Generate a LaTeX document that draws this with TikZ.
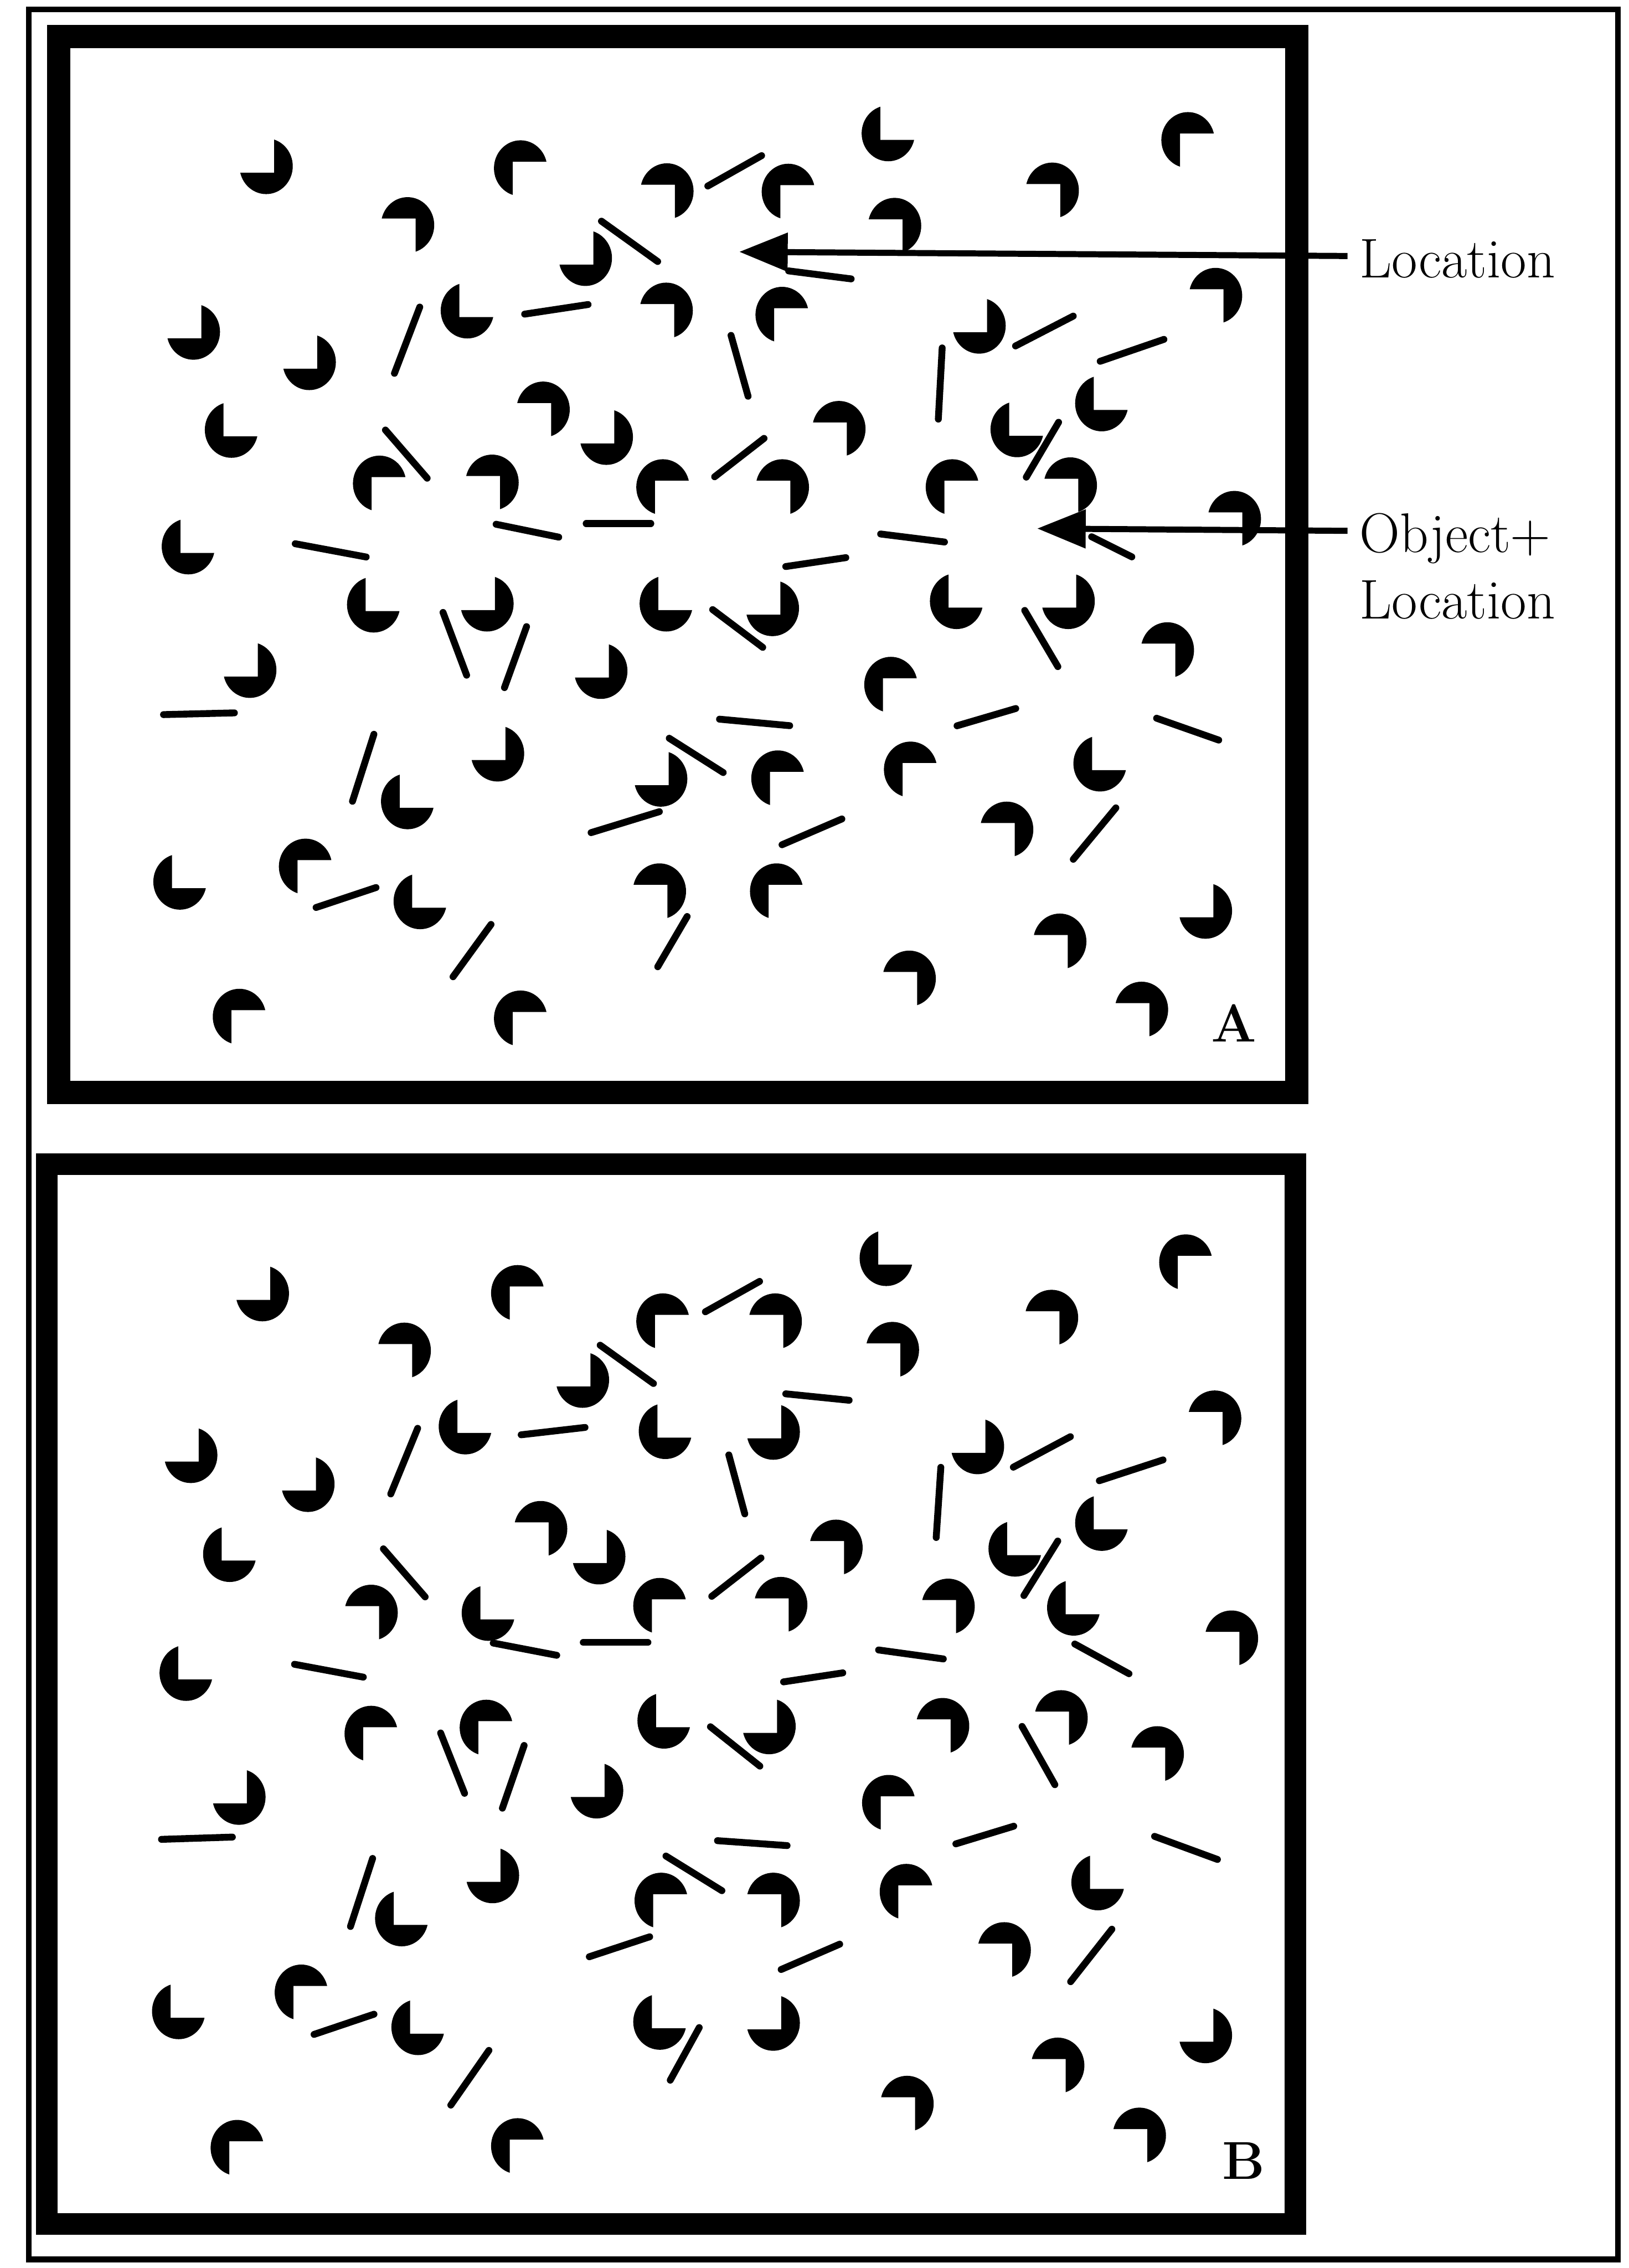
\documentclass[tikz,border=0pt]{standalone}
\usetikzlibrary{arrows.meta,calc}
\newcommand\pac[4]{%
  \begin{scope}
    \clip ({#1},{#2}) -- ({#1+(#3)*30},{#2}) -- ({#1+(#3)*30},{#2-(#4)*30}) -- ({#1-(#3)*30},{#2-(#4)*30}) -- ({#1-(#3)*30},{#2+(#4)*30}) -- ({#1},{#2+(#4)*30}) -- cycle;
    \fill ({#1+(#3)*5.5},{#2+(#4)*4.5}) ellipse [x radius=3.68mm, y radius=3.86mm];
  \end{scope}}
\newcommand\pacJ[2]{\pac{#1}{#2}{-1}{-1}}
\newcommand\pacR[2]{\pac{#1}{#2}{1}{1}}
\newcommand\pacS[2]{\pac{#1}{#2}{-1}{1}}
\newcommand\pacL[2]{\pac{#1}{#2}{1}{-1}}
\tikzset{
  stim/.style={line width=0.95mm, line cap=round, shorten <=0.45mm, shorten >=0.45mm},
  arr/.style={line width=0.84mm, -{Triangle[length=6.7mm,width=5.2mm]}},
  frameA/.style={line width=3.2mm},
  frameB/.style={line width=3.0mm},
  outer/.style={line width=0.8mm},
  lab/.style={inner sep=0pt, font=\fontsize{22}{26}\selectfont},
  panlab/.style={inner sep=0pt, font=\fontsize{21}{25}\selectfont\bfseries}
}
\begin{document}
\begin{tikzpicture}[x=0.2mm, y=-0.2mm]
\useasboundingbox (0,0) rectangle (1126,1568);
\fill[white] (0,0) rectangle (1126,1568);
% frames
\draw[outer] (20,6.5) rectangle (1118.5,1562);
\draw[frameA] (40.6,25.3) rectangle (896.6,755.2);
\draw[frameB] (32.5,805) rectangle (895.5,1537.5);

% ================= Panel A =================
\pacJ{189.5}{119.4}
\pacR{354.4}{111.8}
\pacS{466.6}{127.7}
\pacS{287.3}{151.1}
\pacJ{410.2}{182.9}
\pacL{317.6}{219.2}
\pacS{466.1}{210.2}
\pacJ{139.2}{233.9}
\pacJ{219.3}{254.9}
\pacL{154.5}{301.7}
\pacS{381.0}{278.6}
\pacJ{424.7}{306.6}
\pacR{256.9}{329.8}
\pacS{345.7}{329.1}
\pacR{452.8}{332.3}
\pacL{124.7}{382.3}
\pacR{539.5}{128.0}
\pacL{608.6}{96.7}
\pacR{815.8}{92.3}
\pacS{733.0}{127.2}
\pacS{624.0}{151.6}
\pacR{535.2}{213.1}
\pacS{845.9}{200.0}
\pacJ{682.4}{229.7}
\pacL{756.2}{283.4}
\pacL{697.7}{301.3}
\pacS{585.5}{292.0}
\pacS{546.4}{332.3}
\pacR{652.9}{332.3}
\pacS{745.5}{331.0}
\pacS{858.9}{354.2}
\pacL{252.8}{422.5}
\pacJ{342.2}{421.8}
\pacL{455.1}{421.8}
\pacJ{178.2}{467.7}
\pacJ{420.9}{468.4}
\pacL{276.3}{558.5}
\pacJ{349.5}{525.5}
\pacJ{462.3}{542.9}
\pacL{118.9}{614.1}
\pacR{205.7}{594.6}
\pacL{285.0}{627.6}
\pacS{461.4}{611.7}
\pacR{160.0}{698.4}
\pacR{354.4}{699.6}
\pacJ{539.5}{425.0}
\pacL{655.8}{420.1}
\pacJ{744.0}{420.1}
\pacS{812.6}{445.0}
\pacR{610.4}{468.9}
\pacR{532.3}{533.6}
\pacR{624.0}{527.5}
\pacL{755.0}{532.4}
\pacS{701.5}{569.0}
\pacR{531.4}{611.7}
\pacJ{838.9}{634.2}
\pacS{738.2}{646.4}
\pacS{634.1}{672.0}
\pacS{794.7}{693.5}

\draw[stim] (414.0,151.6) -- (456.5,182.1);
\draw[stim] (360.5,217.5) -- (408.8,210.2);
\draw[stim] (291.0,210.2) -- (271.9,260.2);
\draw[stim] (265.0,295.6) -- (296.8,332.3);
\draw[stim] (201.9,375.5) -- (255.4,385.5);
\draw[stim] (340.8,362.0) -- (388.5,371.8);
\draw[stim] (403.0,362.0) -- (452.2,362.0);
\draw[stim] (487.4,129.7) -- (528.5,106.5);
\draw[stim] (543.0,187.0) -- (590.7,193.1);
\draw[stim] (700.1,240.2) -- (744.0,217.5);
\draw[stim] (758.5,250.5) -- (806.8,233.9);
\draw[stim] (504.8,229.7) -- (517.8,276.1);
\draw[stim] (651.5,238.3) -- (648.6,292.0);
\draw[stim] (733.0,290.0) -- (708.4,331.8);
\draw[stim] (492.3,331.0) -- (530.0,301.7);
\draw[stim] (752.7,370.1) -- (784.5,386.0);
\draw[stim] (606.6,368.9) -- (655.2,375.0);
\draw[stim] (541.0,392.0) -- (587.0,385.2);
\draw[stim] (305.5,421.3) -- (323.4,468.9);
\draw[stim] (364.8,431.1) -- (348.0,477.5);
\draw[stim] (110.8,494.1) -- (164.3,492.8);
\draw[stim] (259.2,505.5) -- (243.0,556.1);
\draw[stim] (460.8,509.2) -- (501.9,535.3);
\draw[stim] (406.5,576.3) -- (458.0,560.5);
\draw[stim] (216.4,628.1) -- (262.1,612.9);
\draw[stim] (340.8,637.3) -- (311.9,677.1);
\draw[stim] (476.2,631.7) -- (453.6,670.3);
\draw[stim] (490.9,420.1) -- (529.1,448.9);
\draw[stim] (707.3,420.1) -- (732.5,462.8);
\draw[stim] (495.2,497.0) -- (548.2,501.9);
\draw[stim] (659.5,502.4) -- (704.4,489.2);
\draw[stim] (797.5,495.8) -- (844.7,512.4);
\draw[stim] (538.6,584.9) -- (584.1,565.3);
\draw[stim] (772.9,556.8) -- (740.6,595.8);

\node[panlab] (labA) at (853,707.3) {A};

% labels and arrows
\node[lab, anchor=base west] (loc) at (939.6,192) {Location};
\node[lab, anchor=base west] (obj) at (939.6,382) {Object+};
\node[lab, anchor=base west] (objloc) at (939.6,427.8) {Location};
\coordinate (tipA) at (511.1,174.1);
\coordinate (tipB) at (717.1,365.4);
\draw[arr] ($(loc.base west)+(-8,-15)$) -- (tipA);
\draw[arr] ($(obj.base west)+(-8,-15)$) -- (tipB);

% ================= Panel B =================
\pacJ{186.9}{898.7}
\pacR{352.4}{889.4}
\pacR{452.8}{909.0}
\pacS{285.0}{929.2}
\pacJ{408.2}{958.5}
\pacL{316.2}{990.7}
\pacL{454.5}{993.9}
\pacJ{137.4}{1010.5}
\pacJ{218.4}{1030.5}
\pacL{153.3}{1078.9}
\pacS{379.3}{1052.5}
\pacJ{419.5}{1080.6}
\pacS{262.1}{1110.4}
\pacL{332.1}{1119.6}
\pacR{450.7}{1105.7}
\pacL{123.2}{1161.1}
\pacS{541.5}{909.0}
\pacL{607.2}{874.3}
\pacR{814.3}{868.2}
\pacS{732.5}{906.5}
\pacS{622.5}{928.7}
\pacJ{540.1}{994.4}
\pacS{845.3}{976.1}
\pacJ{681.3}{1004.4}
\pacL{756.2}{1057.4}
\pacL{696.3}{1075.2}
\pacS{583.5}{1065.4}
\pacS{545.3}{1105.0}
\pacS{661.0}{1106.2}
\pacL{736.8}{1116.0}
\pacS{856.9}{1128.2}
\pacR{251.1}{1194.1}
\pacR{330.7}{1189.9}
\pacL{453.6}{1194.1}
\pacJ{170.7}{1246.8}
\pacJ{418.0}{1242.4}
\pacL{272.2}{1330.8}
\pacJ{346.0}{1301.0}
\pacR{451.6}{1309.5}
\pacL{118.0}{1395.0}
\pacR{202.8}{1373.0}
\pacL{283.5}{1406.0}
\pacL{450.7}{1402.3}
\pacR{158.5}{1480.4}
\pacR{352.4}{1479.2}
\pacJ{537.2}{1198.0}
\pacS{657.2}{1188.7}
\pacS{739.1}{1183.3}
\pacS{805.6}{1208.2}
\pacR{608.9}{1241.9}
\pacS{540.1}{1309.5}
\pacR{621.1}{1303.4}
\pacL{753.6}{1305.9}
\pacS{699.8}{1343.7}
\pacJ{540.1}{1403.0}
\pacJ{838.9}{1411.6}
\pacS{736.8}{1423.5}
\pacS{632.6}{1449.9}
\pacS{793.2}{1471.9}

\draw[stim] (413.1,928.7) -- (453.6,957.8);
\draw[stim] (358.1,992.2) -- (406.7,986.6);
\draw[stim] (289.6,985.4) -- (269.3,1034.9);
\draw[stim] (263.6,1069.1) -- (295.4,1105.7);
\draw[stim] (201.4,1150.2) -- (253.4,1159.9);
\draw[stim] (338.8,1135.5) -- (387.1,1144.8);
\draw[stim] (401.0,1135.5) -- (450.2,1135.5);
\draw[stim] (485.7,908.0) -- (527.1,884.8);
\draw[stim] (541.0,963.4) -- (589.3,968.3);
\draw[stim] (698.6,1015.4) -- (742.0,992.2);
\draw[stim] (757.9,1024.4) -- (806.2,1008.6);
\draw[stim] (503.3,1003.7) -- (515.5,1048.8);
\draw[stim] (650.6,1012.2) -- (647.1,1065.2);
\draw[stim] (732.5,1063.5) -- (706.7,1105.0);
\draw[stim] (490.3,1105.0) -- (527.9,1075.7);
\draw[stim] (741.1,1135.5) -- (782.5,1158.2);
\draw[stim] (605.2,1140.4) -- (654.4,1147.2);
\draw[stim] (539.5,1163.1) -- (584.9,1156.2);
\draw[stim] (303.8,1196.0) -- (322.0,1241.9);
\draw[stim] (363.1,1204.6) -- (346.6,1252.2);
\draw[stim] (109.4,1271.7) -- (162.9,1270.0);
\draw[stim] (258.3,1282.7) -- (241.6,1334.0);
\draw[stim] (458.5,1282.0) -- (501.0,1308.3);
\draw[stim] (405.3,1353.5) -- (451.3,1338.3);
\draw[stim] (215.0,1407.2) -- (260.7,1391.8);
\draw[stim] (339.3,1415.7) -- (310.4,1457.2);
\draw[stim] (484.5,1399.8) -- (462.3,1440.1);
\draw[stim] (489.4,1192.4) -- (527.1,1222.4);
\draw[stim] (705.5,1191.6) -- (730.4,1235.8);
\draw[stim] (493.8,1272.4) -- (546.4,1276.1);
\draw[stim] (658.7,1275.4) -- (703.0,1261.9);
\draw[stim] (796.1,1268.8) -- (843.8,1286.3);
\draw[stim] (538.0,1362.5) -- (582.6,1343.2);
\draw[stim] (770.1,1332.0) -- (738.8,1371.8);

\node[panlab] (labB) at (859.8,1493.8) {B};
\end{tikzpicture}
\end{document}
